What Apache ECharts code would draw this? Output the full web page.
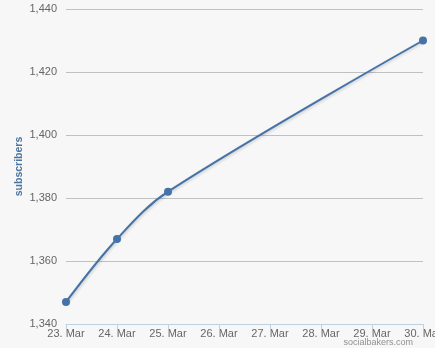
<!DOCTYPE html>
<html><head><meta charset="utf-8">
<script src="https://cdn.jsdelivr.net/npm/echarts@6/dist/echarts.min.js"></script>
<style>html,body{margin:0;padding:0;background:#f7f7f7}#c{width:435px;height:348px}</style>
</head><body><div id="c"></div>
<script>
const days = [23, 24, 25, 30];
const subscribers = [1347, 1367, 1382, 1430];
const xTicks = [23, 24, 25, 26, 27, 28, 29, 30];
const yTicks = [1340, 1360, 1380, 1400, 1420, 1440];

const FONT = 'Liberation Sans';
const chart = echarts.init(document.getElementById('c'));
chart.setOption({
  backgroundColor: '#f7f7f7',
  animation: false,
  grid: {left: 66, right: 12, top: 9, bottom: 24, containLabel: false, outerBoundsMode: 'none'},
  xAxis: {
    type: 'value', min: xTicks[0], max: xTicks[xTicks.length - 1], interval: 1,
    axisLine: {show: true, lineStyle: {color: '#c0d0e0', width: 1}},
    axisTick: {show: true, length: 5, lineStyle: {color: '#c0d0e0'}},
    splitLine: {show: false},
    axisLabel: {color: '#666', fontSize: 11, fontFamily: FONT, margin: 4,
      formatter: v => v + '. Mar', showMinLabel: true, showMaxLabel: true, hideOverlap: false}
  },
  yAxis: {
    type: 'value', min: yTicks[0], max: yTicks[yTicks.length - 1], interval: 20,
    name: 'subscribers', nameLocation: 'middle', nameGap: 41, nameRotate: 90, nameMoveOverlap: false,
    nameTextStyle: {color: '#4d759e', fontWeight: 'bold', fontSize: 10.5, fontFamily: FONT},
    axisLine: {show: false}, axisTick: {show: false},
    splitLine: {lineStyle: {color: '#c0c0c0', width: 1}},
    axisLabel: {color: '#666', fontSize: 11, fontFamily: FONT, margin: 9,
      formatter: v => v.toLocaleString('en-US')}
  },
  series: [{
    type: 'line',
    data: days.map((d, i) => [d, subscribers[i]]),
    smooth: 0.35,
    symbol: 'circle', symbolSize: 8,
    lineStyle: {color: '#4572a7', width: 2, shadowColor: 'rgba(0,0,0,0.2)', shadowBlur: 3, shadowOffsetX: 1, shadowOffsetY: 1},
    itemStyle: {color: '#4572a7'}
  }],
  graphic: [{
    type: 'text', right: 22, bottom: 1,
    style: {text: 'socialbakers.com', fill: '#909090', fontSize: 9, fontFamily: FONT}
  }]
});
</script></body></html>
